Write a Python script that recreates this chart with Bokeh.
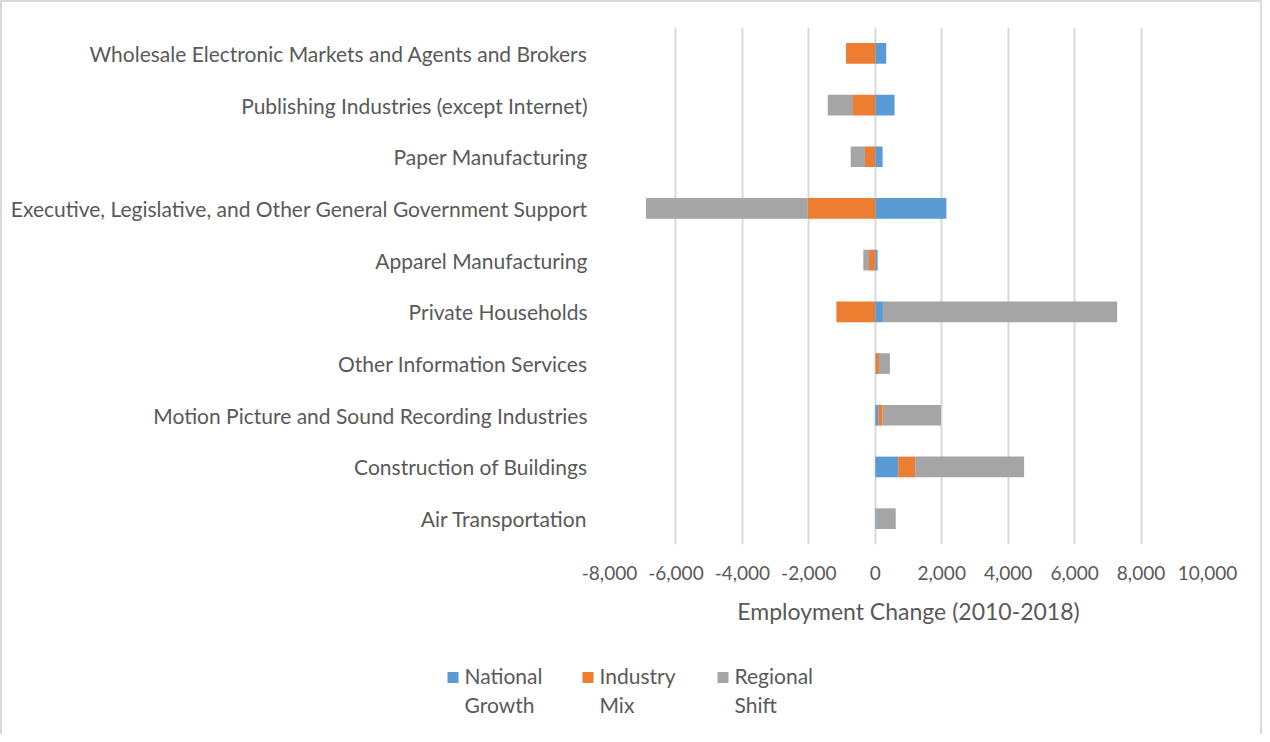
from bokeh.plotting import figure
from bokeh.layouts import column, row
from bokeh.models import (FactorRange, Range1d, NumeralTickFormatter, FixedTicker)
from bokeh.core.properties import value
from bokeh.embed import file_html
from bokeh.resources import INLINE

categories = [
    "Wholesale Electronic Markets and Agents and Brokers",
    "Publishing Industries (except Internet)",
    "Paper Manufacturing",
    "Executive, Legislative, and Other General Government Support",
    "Apparel Manufacturing",
    "Private Households",
    "Other Information Services",
    "Motion Picture and Sound Recording Industries",
    "Construction of Buildings",
    "Air Transportation",
]
national_growth = [330, 580, 220, 2140, 70, 230, 10, 90, 690, 35]
industry_mix = [-880, -670, -310, -2030, -190, -1170, 100, 130, 510, 0]
regional_shift = [0, -760, -430, -4870, -170, 7050, 330, 1760, 3280, 580]
series_names = ["National\nGrowth", "Industry\nMix", "Regional\nShift"]
series_colors = ["#5B9BD5", "#ED7D31", "#A5A5A5"]
x_ticks = [-8000, -6000, -4000, -2000, 0, 2000, 4000, 6000, 8000, 10000]

FONT = "Lato"
TXT = "#595959"
BORDER = "2px solid #d9d9d9"
W = 1262
H_MAIN = 650
H_LEG = 84

p = figure(width=W, height=H_MAIN,
           y_range=FactorRange(factors=categories[::-1]),
           x_range=Range1d(-8000, 10000),
           output_backend="svg", toolbar_location=None,
           min_border_left=607, min_border_right=57,
           min_border_top=25, min_border_bottom=108)
p.outline_line_color = None
p.styles = {"border-left": BORDER, "border-top": BORDER, "border-right": BORDER,
            "box-sizing": "border-box"}

# stacked bars (positives stack right, negatives stack left, in series order)
pos = [0.0] * len(categories)
neg = [0.0] * len(categories)
for vals, color in zip([national_growth, industry_mix, regional_shift], series_colors):
    left, right = [], []
    for i, v in enumerate(vals):
        if v >= 0:
            left.append(pos[i]); right.append(pos[i] + v); pos[i] += v
        else:
            right.append(neg[i]); left.append(neg[i] + v); neg[i] += v
    p.hbar(y=categories, left=left, right=right, height=0.4,
           fill_color=color, line_color=None)

# axes
p.xaxis.ticker = FixedTicker(ticks=x_ticks)
p.xaxis.formatter = NumeralTickFormatter(format="0,0")
p.xaxis.axis_line_color = None
p.xaxis.major_tick_line_color = None
p.xaxis.minor_tick_line_color = None
p.xaxis.major_label_standoff = 15
p.xaxis.major_label_text_font = FONT
p.xaxis.major_label_text_font_size = "19px"
p.xaxis.major_label_text_color = TXT
p.xaxis.axis_label = "Employment Change (2010-2018)"
p.xaxis.axis_label_text_font = FONT
p.xaxis.axis_label_text_font_style = "normal"
p.xaxis.axis_label_text_font_size = "23px"
p.xaxis.axis_label_text_color = TXT
p.xaxis.axis_label_standoff = 14

p.yaxis.axis_line_color = None
p.yaxis.major_tick_line_color = None
p.yaxis.minor_tick_line_color = None
p.yaxis.major_label_standoff = 16
p.yaxis.major_label_text_font = FONT
p.yaxis.major_label_text_font_size = "21px"
p.yaxis.major_label_text_color = TXT

p.xgrid.grid_line_color = "#d9d9d9"
p.xgrid.grid_line_width = 2
p.ygrid.grid_line_color = None

# legend strip: a second figure whose frame is measured in pixels
lg = figure(width=W, height=H_LEG, output_backend="svg", toolbar_location=None,
            x_range=Range1d(0, W), y_range=Range1d(0, H_LEG),
            min_border_left=0, min_border_right=0, min_border_top=0,
            min_border_bottom=0, outline_line_color=None)
lg.axis.visible = False
lg.grid.visible = False
lg.styles = {"border-left": BORDER, "border-right": BORDER,
             "box-sizing": "border-box"}

LEG_X0, LEG_STEP, SW = 445, 135, 11
sq_x = [LEG_X0 + SW / 2 + i * LEG_STEP for i in range(len(series_names))]
tx_x = [LEG_X0 + SW + 6 + i * LEG_STEP for i in range(len(series_names))]
lg.rect(x=sq_x, y=[H_LEG - 27] * len(sq_x), width=SW, height=SW,
        fill_color=series_colors, line_color=None)
lg.text(x=tx_x, y=[H_LEG - 39.5] * len(tx_x), text=series_names,
        text_font=value(FONT), text_font_size="21px", text_color=TXT,
        text_align="left", text_baseline="middle", text_line_height=1.14)

layout = column(p, row(lg), spacing=0)
open("out.html", "w").write(file_html(layout, INLINE))
